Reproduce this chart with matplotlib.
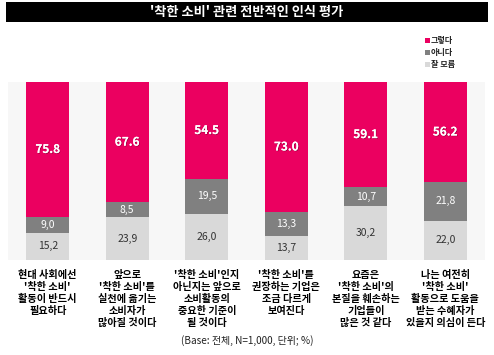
import matplotlib.pyplot as plt
import matplotlib.patheffects as pe
from matplotlib.patches import Rectangle

plt.rcParams['font.family'] = ['Noto Sans CJK KR', 'DejaVu Sans']

# Data
categories = [
    "현대 사회에선\n'착한 소비'\n활동이 반드시\n필요하다",
    "앞으로\n'착한 소비'를\n실천에 옮기는\n소비자가\n많아질 것이다",
    "'착한 소비'인지\n아닌지는 앞으로\n소비활동의\n중요한 기준이\n될 것이다",
    "'착한 소비'를\n권장하는 기업은\n조금 다르게\n보여진다",
    "요즘은\n'착한 소비'의\n본질을 훼손하는\n기업들이\n많은 것 같다",
    "나는 여전히\n'착한 소비'\n활동으로 도움을\n받는 수혜자가\n있을지 의심이 든다",
]
yes = [75.8, 67.6, 54.5, 73.0, 59.1, 56.2]
no = [9.0, 8.5, 19.5, 13.3, 10.7, 21.8]
unsure = [15.2, 23.9, 26.0, 13.7, 30.2, 22.0]
series_names = ['그렇다', '아니다', '잘 모름']

c_yes = '#EB0060'
c_no = '#808080'
c_unsure = '#D9D9D9'

fig = plt.figure(figsize=(4.94, 3.55), dpi=100)
W, H = 494, 355

# title bar
fig.patches.append(Rectangle((6 / W, 1 - 22 / H), 482 / W, 20 / H,
                             transform=fig.transFigure, facecolor='black',
                             edgecolor='none', zorder=0))
fig.text(247 / W, 1 - 12 / H, "'착한 소비' 관련 전반적인 인식 평가", color='white',
         ha='center', va='center', fontsize=9.5, fontweight='bold')

ax = fig.add_axes([8 / W, 1 - 260 / H, 477 / W, 178 / H])
ax.set_facecolor('#F7F7F7')
x = range(len(categories))
width = 0.54
ax.bar(x, unsure, width, color=c_unsure, label=series_names[2])
ax.bar(x, no, width, bottom=unsure, color=c_no, label=series_names[1])
bottom2 = [u + n for u, n in zip(unsure, no)]
ax.bar(x, yes, width, bottom=bottom2, color=c_yes, label=series_names[0])
ax.set_xlim(-0.5, len(categories) - 0.5)
ax.set_ylim(0, 100)
ax.set_xticks([])
ax.set_yticks([])
for s in ax.spines.values():
    s.set_visible(False)

for i in x:
    ax.text(i, unsure[i] / 2, f"{unsure[i]:.1f}".replace('.', ','), ha='center', va='center',
            fontsize=7.5, color='#333333')
    ax.text(i, unsure[i] + no[i] / 2, f"{no[i]:.1f}".replace('.', ','), ha='center', va='center',
            fontsize=7.5, color='white')
    t = ax.text(i, bottom2[i] + yes[i] / 2, f"{yes[i]:.1f}", ha='center', va='center',
                fontsize=8.5, color='white', fontweight='bold')
    t.set_path_effects([pe.withSimplePatchShadow(offset=(0.5, -0.5), shadow_rgbFace='#7a0030', alpha=0.7),
                        pe.Normal()])

# category labels
for i, lab in enumerate(categories):
    ax.text(i, -5.5, lab, ha='center', va='top', fontsize=7.3, fontweight='bold',
            linespacing=1.25, transform=ax.transData)

# legend
leg_y = [40.5, 52.5, 64]
leg_c = [c_yes, c_no, c_unsure]
for yy, cc, nm in zip(leg_y, leg_c, series_names):
    fig.patches.append(Rectangle((425 / W, 1 - (yy + 2.5) / H), 5 / W, 5 / H,
                                 transform=fig.transFigure, facecolor=cc, edgecolor='none'))
    fig.text(431 / W, 1 - yy / H, nm, ha='left', va='center', fontsize=5.8, fontweight='bold',
             color='#222222')

fig.text(247 / W, 1 - 341 / H, "(Base: 전체, N=1,000, 단위; %)", ha='center', va='center',
         fontsize=7.2, color='#222222')

fig.savefig('out.png', dpi=100)
